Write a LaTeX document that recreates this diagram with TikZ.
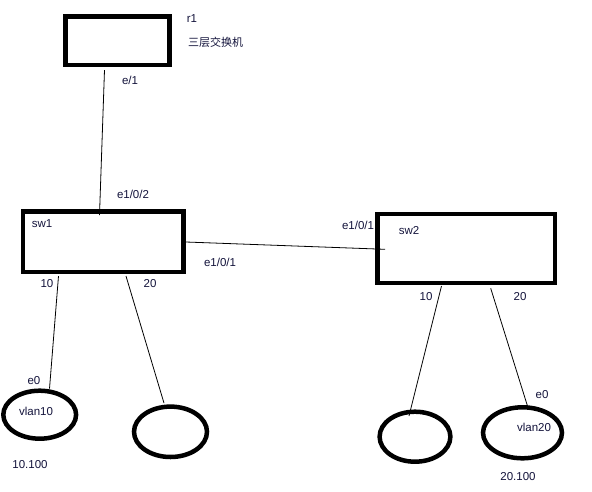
\documentclass[tikz,border=0pt]{standalone}
\usepackage{fontspec}
\setmainfont{Liberation Sans}
\newfontfamily\cjk{Noto Sans CJK SC}
\usetikzlibrary{shapes.geometric}
\definecolor{txt}{RGB}{20,20,60}
\begin{document}
\begin{tikzpicture}[x=1pt,y=-1pt,
  box/.style={draw=black,line width=4.5pt,rectangle,inner sep=0pt,outer sep=0pt},
  host/.style={draw=black,line width=4.5pt,ellipse,inner sep=0pt,outer sep=0pt},
  lbl/.style={text=txt,font=\fontsize{11.5}{13}\selectfont,inner sep=0pt},
  link/.style={draw=black,line width=0.8pt}]
\useasboundingbox[fill=white] (0,0) rectangle (592,491);
% devices
\node[box,minimum width=103.6pt,minimum height=48.7pt] (r1) at (117.5,40.7) {};
\node[box,minimum width=160.7pt,minimum height=60.7pt] (sw1) at (103.3,241.7) {};
\node[box,minimum width=177.5pt,minimum height=69pt] (sw2) at (466.3,248.5) {};
\node[host,minimum width=72.8pt,minimum height=48pt] (h1) at (39.7,414.7) {};
\node[host,minimum width=73pt,minimum height=50.4pt] (h2) at (170.5,431.8) {};
\node[host,minimum width=70.8pt,minimum height=50pt] (h3) at (415,436.7) {};
\node[host,minimum width=79pt,minimum height=51pt] (h4) at (522.5,432.8) {};
% labels
\node[lbl] (tr1) at (192,18.5) {r1};
\node[lbl,font=\cjk\fontsize{11}{13}\selectfont] (tl3) at (215.5,42) {三层交换机};
\node[lbl] (te1) at (130,80) {e/1};
\node[lbl] (tsw1) at (42,224) {sw1};
\node[lbl] (te102) at (133,194.5) {e1/0/2};
\node[lbl] (te101a) at (220,262) {e1/0/1};
\node[lbl] (t10a) at (47,284) {10};
\node[lbl] (t20a) at (150,284) {20};
\node[lbl] (te101b) at (358,225.5) {e1/0/1};
\node[lbl] (tsw2) at (409,231) {sw2};
\node[lbl] (t10b) at (426,297) {10};
\node[lbl] (t20b) at (520,297) {20};
\node[lbl] (te0a) at (34,380.5) {e0};
\node[lbl] (tv10) at (36,411.5) {vlan10};
\node[lbl] (tip1) at (30,465) {10.100};
\node[lbl] (te0b) at (542,394.5) {e0};
\node[lbl] (tv20) at (534,427.5) {vlan20};
\node[lbl] (tip2) at (518,476.5) {20.100};
% links
\draw[link] ([xshift=-13pt,yshift=-5pt]r1.south) -- ([xshift=-3.8pt,yshift=-3.7pt]sw1.north);
\draw[link] ([xshift=2.3pt,yshift=-0.3pt]sw1.east) -- ([xshift=7.5pt,yshift=-0.8pt]sw2.west);
\draw[link] ([xshift=-44.8pt,yshift=-4pt]sw1.south) -- ([xshift=9.8pt,yshift=2pt]h1.north);
\draw[link] ([xshift=22.7pt,yshift=-4pt]sw1.south) -- ([xshift=-6.5pt,yshift=3.5pt]h2.north);
\draw[link] ([xshift=-24.8pt,yshift=-3pt]sw2.south) -- ([xshift=-6pt,yshift=-4.3pt]h3.north);
\draw[link] ([xshift=24.4pt,yshift=-5.3pt]sw2.south) -- ([xshift=5.2pt,yshift=0.6pt]h4.north);
\end{tikzpicture}
\end{document}
